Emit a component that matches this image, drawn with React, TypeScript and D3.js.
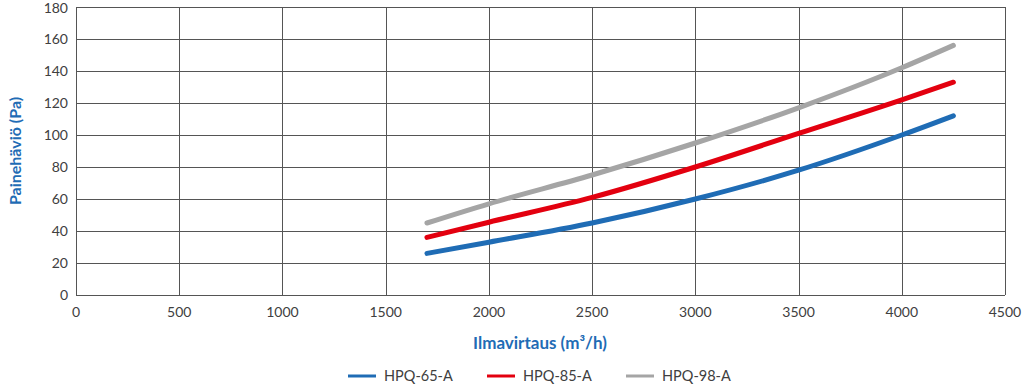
import * as d3 from "d3";
import { useEffect, useRef } from "react";

const airflow = [1700, 2000, 2500, 3000, 3500, 4000, 4250];
const hpq65 = [26, 33, 45, 60, 78, 100, 112];
const hpq85 = [36, 45.5, 61, 80, 101, 122, 133];
const hpq98 = [45, 57, 75, 95, 117, 142, 156];
const seriesNames = ["HPQ-65-A", "HPQ-85-A", "HPQ-98-A"];
const seriesColors = ["#1f6cb5", "#e3000f", "#a5a5a5"];
const xTicks = [0, 500, 1000, 1500, 2000, 2500, 3000, 3500, 4000, 4500];
const yTicks = [0, 20, 40, 60, 80, 100, 120, 140, 160, 180];

const width = 1024;
const height = 388;
const marginLeft = 76;
const marginRight = 19;
const marginTop = 7;
const marginBottom = 93;
const font = "Lato, 'Open Sans', sans-serif";

export default function App() {
  const ref = useRef<SVGSVGElement>(null);

  useEffect(() => {
    const svg = d3.select(ref.current);
    svg.selectAll("*").remove();

    const x = d3.scaleLinear().domain([0, 4500]).range([marginLeft, width - marginRight]);
    const y = d3.scaleLinear().domain([0, 180]).range([height - marginBottom, marginTop]);

    // grid
    const grid = svg.append("g").attr("stroke", "#555").attr("stroke-width", 1);
    grid
      .selectAll("line.v")
      .data(xTicks)
      .join("line")
      .attr("x1", (d) => Math.round(x(d)) + 0.5)
      .attr("x2", (d) => Math.round(x(d)) + 0.5)
      .attr("y1", y(180))
      .attr("y2", y(0));
    grid
      .selectAll("line.h")
      .data(yTicks)
      .join("line")
      .attr("x1", x(0))
      .attr("x2", x(4500))
      .attr("y1", (d) => Math.round(y(d)) + 0.5)
      .attr("y2", (d) => Math.round(y(d)) + 0.5);

    // tick labels
    svg
      .append("g")
      .selectAll("text")
      .data(yTicks)
      .join("text")
      .attr("x", marginLeft - 8)
      .attr("y", (d) => Math.max(y(d), 8))
      .attr("dy", "0.35em")
      .attr("text-anchor", "end")
      .attr("font-family", font)
      .attr("font-size", 14)
      .attr("fill", "#404040")
      .text((d) => d);
    svg
      .append("g")
      .selectAll("text")
      .data(xTicks)
      .join("text")
      .attr("x", (d) => x(d))
      .attr("y", y(0) + 22)
      .attr("text-anchor", "middle")
      .attr("font-family", font)
      .attr("font-size", 14)
      .attr("fill", "#404040")
      .text((d) => d);

    // axis titles
    svg
      .append("text")
      .attr("transform", `translate(21,${(y(0) + y(180)) / 2}) rotate(-90)`)
      .attr("text-anchor", "middle")
      .attr("font-family", font)
      .attr("font-weight", "bold")
      .attr("font-size", 16)
      .attr("fill", "#1f6cb5")
      .text("Painehäviö (Pa)");
    svg
      .append("text")
      .attr("x", 540)
      .attr("y", 349)
      .attr("text-anchor", "middle")
      .attr("font-family", font)
      .attr("font-weight", "bold")
      .attr("font-size", 17)
      .attr("fill", "#1f6cb5")
      .text("Ilmavirtaus (m³/h)");

    // lines
    const line = d3
      .line<number>()
      .x((_, i) => x(airflow[i]))
      .y((d) => y(d))
      .curve(d3.curveMonotoneX);
    [hpq65, hpq85, hpq98].forEach((s, i) => {
      svg
        .append("path")
        .attr("d", line(s))
        .attr("fill", "none")
        .attr("stroke", seriesColors[i])
        .attr("stroke-width", 5)
        .attr("stroke-linecap", "round");
    });

    // legend
    const legend = svg.append("g").attr("transform", "translate(348,376)");
    seriesNames.forEach((name, i) => {
      const g = legend.append("g").attr("transform", `translate(${i * 139},0)`);
      g.append("line")
        .attr("x1", 0)
        .attr("x2", 28)
        .attr("stroke", seriesColors[i])
        .attr("stroke-width", 3);
      g.append("text")
        .attr("x", 36)
        .attr("dy", "0.35em")
        .attr("font-family", font)
        .attr("font-size", 14.5)
        .attr("fill", "#404040")
        .text(name);
    });
  }, []);

  return <svg ref={ref} width={width} height={height} style={{ display: "block", position: "absolute", left: 0, top: 0, background: "#fff" }} />;
}
